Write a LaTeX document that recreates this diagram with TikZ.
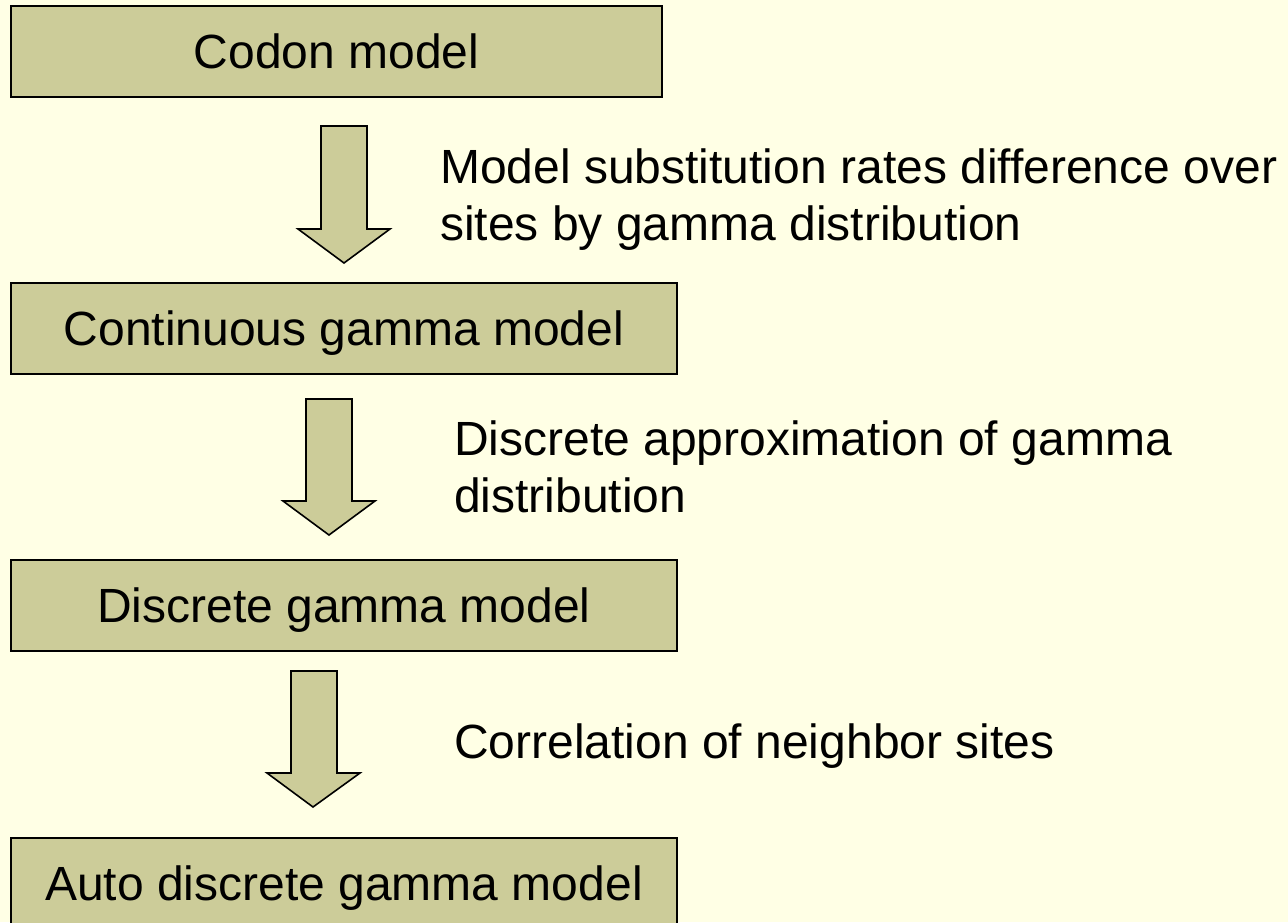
\documentclass[tikz,border=0pt]{standalone}
\usepackage{fontspec}
\setmainfont{Liberation Sans}
\definecolor{bgyellow}{RGB}{255,255,229}
\definecolor{boxolive}{RGB}{204,204,153}
\begin{document}
\begin{tikzpicture}[x=1pt,y=-1pt,
  stagebox/.style={draw=black, line width=1.6pt, fill=boxolive, rectangle,
    minimum height=91pt, inner sep=0pt, text height=34.4pt, text depth=0pt,
    font=\fontsize{48}{57}\selectfont},
  blockarrow/.style={draw=black, line width=1.6pt, fill=boxolive, line join=miter},
  note/.style={anchor=base west, align=left, inner sep=0pt,
    font=\fontsize{48}{57}\selectfont}]
  % page and background
  \fill[bgyellow] (0,0) rectangle (1288,922);
  \useasboundingbox (0,0) rectangle (1288,922);

  % model stages
  \node[stagebox, minimum width=651pt] (codon) at (336.5,51.5) {Codon model};
  \node[stagebox, minimum width=666pt] (cont) at (344,328.5) {Continuous gamma model};
  \node[stagebox, minimum width=666pt] (disc) at (344,605.5) {Discrete gamma model};
  \node[stagebox, minimum width=666pt] (auto) at (344,883.5) {Auto discrete gamma model};

  % block arrows between stages
  \draw[blockarrow] (321,126) -- (367,126) -- (367,229) -- (390,229) -- (344,263)
    -- (298,229) -- (321,229) -- cycle;
  \draw[blockarrow] (306,399) -- (352,399) -- (352,501) -- (375,501) -- (329,535)
    -- (283,501) -- (306,501) -- cycle;
  \draw[blockarrow] (291,671) -- (337,671) -- (337,773) -- (360,773) -- (313,807)
    -- (267,773) -- (291,773) -- cycle;

  % step descriptions (anchored at the baseline of their last line)
  \node[note] (n1) at (440,240) {Model substitution rates difference over\\sites by gamma distribution};
  \node[note] (n2) at (454,512) {Discrete approximation of gamma\\distribution};
  \node[note] (n3) at (454,758) {Correlation of neighbor sites};
\end{tikzpicture}
\end{document}
